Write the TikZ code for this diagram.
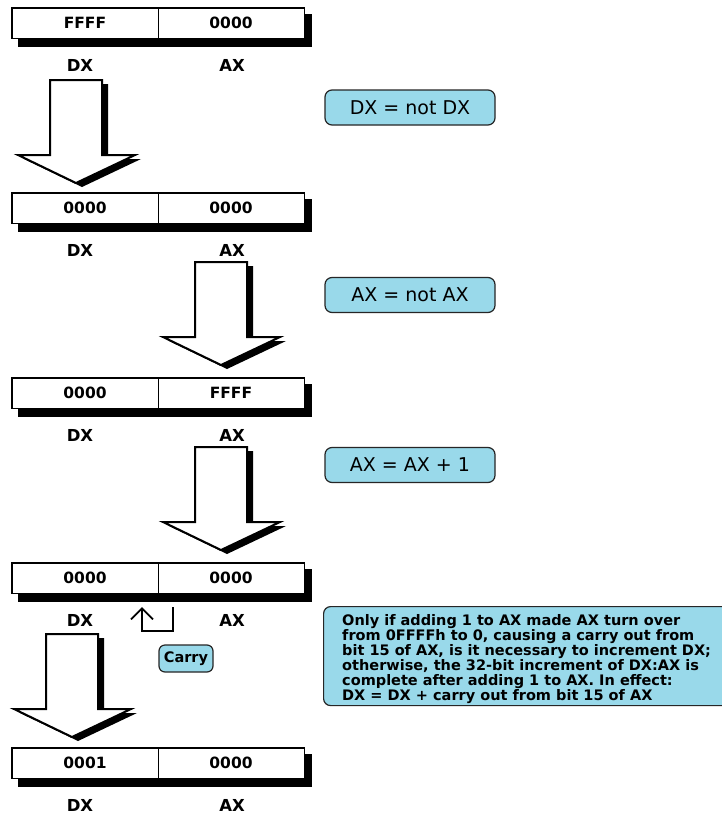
\documentclass[tikz,border=0pt]{standalone}
\usepackage{fontspec}
\setmainfont{DejaVu Sans}
\usetikzlibrary{arrows.meta}
\definecolor{callblue}{RGB}{153,217,234}
\tikzset{
  regcell/.style={draw=black, line width=1pt, fill=white, minimum width=146pt, minimum height=30pt, inner sep=0pt, font=\bfseries\fontsize{15.5}{17}\selectfont},
  reglabel/.style={font=\bfseries\fontsize{16.5}{18}\selectfont, inner sep=0pt},
  callbox/.style={draw=black!85, line width=1.2pt, fill=callblue, rounded corners=7pt},
  opbox/.style={callbox, minimum width=170pt, minimum height=35pt, inner sep=0pt, font=\fontsize{19}{21}\selectfont},
  blockarrow/.style={draw=black, line width=2pt, fill=white, line join=miter},
  carryline/.style={draw=black, line width=1.8pt, -{Straight Barb[length=11pt,width=22pt]}}
}
\newcommand\myreg[4]{%
  \fill[black] (18,{#1+6}) rectangle (312,{#1+39});
  \node[regcell] (#2dx) at (85,{#1+15}) {#3};
  \node[regcell] (#2ax) at (231,{#1+15}) {#4};
  \draw[line width=1.8pt] (#2dx.north west) rectangle (#2ax.south east);
  \node[reglabel] (#2dxl) at (80,{#1+57}) {DX};
  \node[reglabel] (#2axl) at (232,{#1+57}) {AX};
}
\newcommand\bigarrow[2]{%
  \fill[black, shift={(6,4)}] ({#1-26},#2) -- ({#1+26},#2) -- ({#1+26},{#2+75}) -- ({#1+59},{#2+75}) -- (#1,{#2+103}) -- ({#1-58},{#2+75}) -- ({#1-26},{#2+75}) -- cycle;
  \path[blockarrow] ({#1-26},#2) -- ({#1+26},#2) -- ({#1+26},{#2+75}) -- ({#1+59},{#2+75}) -- (#1,{#2+103}) -- ({#1-58},{#2+75}) -- ({#1-26},{#2+75}) -- cycle;
}
\begin{document}
\begin{tikzpicture}[x=1pt,y=-1pt]
\fill[white] (0,0) rectangle (721,814);
\useasboundingbox (0,0) rectangle (721,814);

\myreg{8}{ra}{FFFF}{0000}
\myreg{193}{rb}{0000}{0000}
\myreg{378}{rc}{0000}{FFFF}
\myreg{563}{rd}{0000}{0000}
\myreg{748}{re}{0001}{0000}

\bigarrow{76}{80}
\bigarrow{221}{262}
\bigarrow{221}{447}
\bigarrow{72}{634}

\node[opbox] (op1) at (410,107.5) {DX = not DX};
\node[opbox] (op2) at (410,295) {AX = not AX};
\node[opbox] (op3) at (410,465) {AX = AX + 1};

\coordinate (cstart) at (173,607);
\coordinate (cend) at (142,607);
\draw[carryline] (cstart) -- (173,631) -| (cend);
\node[callbox, rounded corners=6pt, minimum width=54pt, minimum height=27pt, inner sep=0pt, font=\bfseries\fontsize{14.5}{16}\selectfont] (carry) at (186,658.5) {Carry};

\node[callbox, anchor=north west, minimum width=420pt, minimum height=99pt] (note) at (323,606) {};
\node[anchor=west, align=left, inner sep=0pt, font=\bfseries\fontsize{14.5}{15}\selectfont] (notetxt) at (342,659) {Only if adding 1 to AX made AX turn over\\
from 0FFFFh to 0, causing a carry out from\\
bit 15 of AX, is it necessary to increment DX;\\
otherwise, the 32-bit increment of DX:AX is\\
complete after adding 1 to AX. In effect:\\
DX = DX + carry out from bit 15 of AX};
\end{tikzpicture}
\end{document}
